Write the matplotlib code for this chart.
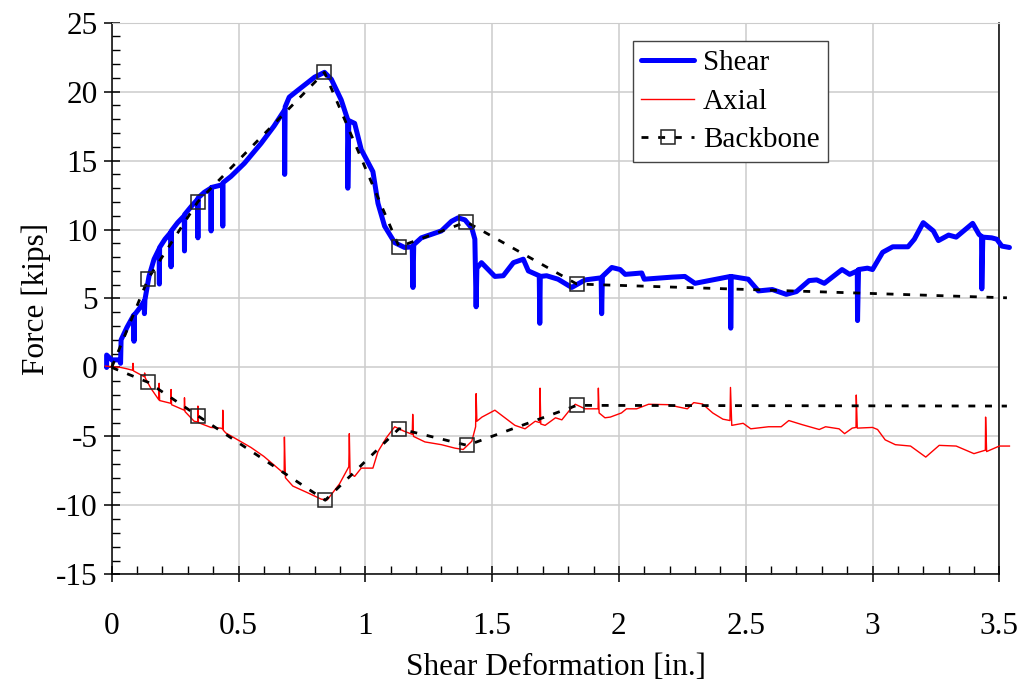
import matplotlib

matplotlib.use("Agg")
import matplotlib.pyplot as plt
from matplotlib.ticker import MultipleLocator

# measured shear force (kips) vs shear deformation (in.), spikes kept as read
shear_x = [-0.02, -0.02, 0.0, 0.03, 0.035, 0.037, 0.06, 0.087, 0.088, 0.089, 0.11, 0.128, 0.129,
           0.131, 0.147, 0.167, 0.187, 0.188, 0.189, 0.21, 0.233, 0.234, 0.235, 0.26, 0.286, 0.287,
           0.288, 0.315, 0.339, 0.340, 0.341, 0.365, 0.391, 0.392, 0.393, 0.437, 0.438, 0.439, 0.47,
           0.523, 0.589, 0.64, 0.681, 0.682, 0.684, 0.70, 0.734, 0.80, 0.839, 0.866, 0.905, 0.93,
           0.931, 0.935, 0.958, 0.984, 1.03, 1.05, 1.076, 1.116, 1.155, 1.185, 1.188, 1.191, 1.221,
           1.30, 1.34, 1.366, 1.393, 1.42, 1.432, 1.437, 1.44, 1.458, 1.511, 1.544, 1.584, 1.623,
           1.643, 1.686, 1.688, 1.69, 1.715, 1.76, 1.814, 1.867, 1.93, 1.932, 1.935, 1.972, 2.005,
           2.025, 2.09, 2.10, 2.21, 2.26, 2.30, 2.37, 2.44, 2.441, 2.443, 2.51, 2.55, 2.605, 2.66,
           2.70, 2.75, 2.78, 2.81, 2.88, 2.91, 2.94, 2.941, 2.945, 2.98, 3.0, 3.04, 3.08, 3.14,
           3.165, 3.20, 3.24, 3.26, 3.30, 3.33, 3.395, 3.42, 3.43, 3.431, 3.435, 3.47, 3.49, 3.51,
           3.54]
shear_y = [0.0, 0.9, 0.55, 0.55, 0.3, 2.0, 2.9, 3.8, 1.9, 3.8, 4.3, 4.8, 3.9,
           4.9, 6.6, 7.85, 8.6, 6.05, 8.7, 9.3, 9.8, 7.3, 9.9, 10.5, 11.0, 8.45,
           11.1, 11.7, 12.2, 9.4, 12.3, 12.7, 13.0, 9.9, 13.05, 13.25, 10.25, 13.4, 13.85,
           14.8, 16.25, 17.5, 18.65, 14.0, 18.9, 19.6, 20.1, 21.05, 21.4, 20.9, 19.4, 18.0,
           13.0, 17.9, 17.7, 15.8, 14.2, 11.9, 10.25, 9.05, 8.7, 8.75, 5.8, 8.9, 9.4,
           9.9, 10.6, 10.85, 10.7, 10.1, 9.3, 4.4, 7.2, 7.6, 6.6, 6.65, 7.6, 7.85,
           7.0, 6.65, 3.2, 6.6, 6.65, 6.4, 5.8, 6.35, 6.5, 3.9, 6.6, 7.25, 7.1,
           6.75, 6.85, 6.4, 6.55, 6.6, 6.1, 6.35, 6.6, 2.85, 6.6, 6.4, 5.55, 5.65, 5.3,
           5.5, 6.3, 6.35, 6.1, 7.1, 6.75, 7.0, 3.4, 7.1, 7.2, 7.1, 8.35, 8.75, 8.75,
           9.3, 10.5, 9.9, 9.2, 9.6, 9.45, 10.45, 9.65, 9.5, 5.7, 9.45, 9.4, 9.3, 8.8,
           8.7]

# measured axial force (kips)
axial_x = [-0.025, 0.036, 0.06, 0.082, 0.084, 0.086, 0.128, 0.13, 0.132, 0.154, 0.186, 0.187,
           0.189, 0.233, 0.234, 0.236, 0.286, 0.287, 0.289, 0.325, 0.339, 0.340, 0.342, 0.391,
           0.43, 0.437, 0.438, 0.44, 0.45, 0.497, 0.549, 0.60, 0.68, 0.681, 0.685, 0.714, 0.774,
           0.826, 0.85, 0.898, 0.935, 0.937, 0.94, 0.958, 0.984, 1.03, 1.05, 1.083, 1.116, 1.15,
           1.185, 1.187, 1.19, 1.235, 1.30, 1.353, 1.386, 1.42, 1.435, 1.437, 1.44, 1.46, 1.511,
           1.59, 1.63, 1.67, 1.688, 1.689, 1.692, 1.709, 1.75, 1.775, 1.81, 1.828, 1.867, 1.918,
           1.919, 1.922, 1.945, 1.966, 2.01, 2.03, 2.07, 2.117, 2.196, 2.23, 2.27, 2.295, 2.33,
           2.37, 2.41, 2.438, 2.44, 2.445, 2.49, 2.52, 2.59, 2.64, 2.67, 2.723, 2.79, 2.815,
           2.868, 2.89, 2.92, 2.935, 2.936, 2.94, 3.0, 3.02, 3.05, 3.09, 3.15, 3.21, 3.263, 3.33,
           3.40, 3.445, 3.446, 3.45, 3.50, 3.54]
axial_y = [0.1, 0.0, -0.1, -0.2, 0.3, -0.25, -0.67, -0.4, -0.75, -1.5, -2.35, -1.15,
           -2.4, -2.6, -1.6, -2.7, -3.1, -2.2, -3.2, -3.9, -3.95, -2.8, -4.0, -4.35,
           -4.4, -4.45, -3.1, -4.55, -4.75, -5.25, -5.8, -6.45, -7.7, -5.05, -8.0, -8.6, -9.1,
           -9.55, -9.6, -8.45, -7.2, -4.8, -7.7, -7.9, -7.3, -7.3, -6.1, -5.1, -4.3, -4.6,
           -4.85, -3.4, -5.0, -5.4, -5.6, -5.85, -5.95, -5.35, -4.3, -1.9, -3.9, -3.6, -3.1,
           -4.2, -4.45, -3.9, -4.0, -1.5, -4.1, -4.2, -3.65, -3.8, -3.0, -2.67, -3.0, -3.0,
           -1.5, -3.3, -3.65, -3.6, -3.3, -3.0, -3.0, -2.67, -2.7, -2.85, -3.0, -2.55, -2.65,
           -3.3, -3.75, -3.85, -1.45, -4.2, -4.05, -4.45, -4.3, -4.3, -3.85, -4.15, -4.5, -4.3,
           -4.45, -4.8, -4.4, -4.35, -2.0, -4.4, -4.35, -4.5, -5.25, -5.6, -5.7, -6.5, -5.65, -5.7,
           -6.25, -6.0, -3.6, -6.1, -5.7, -5.7]

# backbone envelopes (first and last points carry no marker)
bb_shear_x = [0.0, 0.144, 0.339, 0.839, 1.133, 1.399, 1.834, 3.53]
bb_shear_y = [0.0, 6.45, 12.0, 21.4, 8.75, 10.55, 6.05, 5.05]
bb_axial_x = [0.0, 0.144, 0.339, 0.842, 1.133, 1.402, 1.834, 3.53]
bb_axial_y = [0.0, -1.08, -3.5, -9.63, -4.44, -5.65, -2.75, -2.8]

plt.rcParams.update({
    "font.family": ["Liberation Serif", "DejaVu Serif"],
    "font.size": 22.5,
    "axes.unicode_minus": False,
})

fig = plt.figure(figsize=(10.23, 6.84), dpi=100)
ax = fig.add_axes([111.7 / 1023, 1 - 574.3 / 684, 887.6 / 1023, 551.6 / 684])

ax.plot(shear_x, shear_y, color="#0000ff", lw=3.6, solid_capstyle="round",
        solid_joinstyle="round", clip_on=False, zorder=3, label="Shear")
ax.plot(axial_x, axial_y, color="#ff0000", lw=1.0, clip_on=False, zorder=3, label="Axial")
bb_style = dict(color="black", lw=2.0, dashes=(2.5, 3.5), marker="s", markersize=9.5,
                markerfacecolor="none", markeredgecolor="#222222", markeredgewidth=1.1,
                markevery=slice(1, 7), clip_on=False, zorder=4)
ax.plot(bb_shear_x, bb_shear_y, label="Backbone", **bb_style)
ax.plot(bb_axial_x, bb_axial_y, **bb_style)

ax.set_xlim(0, 3.5)
ax.set_ylim(-15, 25)
ax.xaxis.set_major_locator(MultipleLocator(0.5))
ax.xaxis.set_minor_locator(MultipleLocator(0.1))
ax.yaxis.set_major_locator(MultipleLocator(5))
ax.yaxis.set_minor_locator(MultipleLocator(1))
ax.set_xticklabels([f"{v:g}" for v in ax.get_xticks()])
ax.grid(True, which="major", color="#cccccc", lw=1.1)
ax.set_axisbelow(True)

ax.tick_params(which="major", direction="inout", length=12, width=1.1, color="black")
ax.tick_params(which="minor", direction="in", length=5.5, width=1.0, color="black")
ax.tick_params(axis="x", which="major", pad=21)
ax.tick_params(axis="y", which="major", pad=4)
for side in ("left", "bottom", "right"):
    ax.spines[side].set_linewidth(1.1)
ax.spines["top"].set_color("#cccccc")

ax.set_xlabel("Shear Deformation [in.]", labelpad=9)
ax.set_ylabel("Force [kips]", labelpad=4)

leg = ax.legend(loc="upper left", bbox_to_anchor=(0.587, 0.967), fontsize=21,
                frameon=True, fancybox=False, edgecolor="#444444", framealpha=1,
                handlelength=1.8, handletextpad=0.3, labelspacing=0.42,
                borderpad=0.3, borderaxespad=0)
leg.get_frame().set_linewidth(1.0)

fig.savefig("out.png", dpi=100)
